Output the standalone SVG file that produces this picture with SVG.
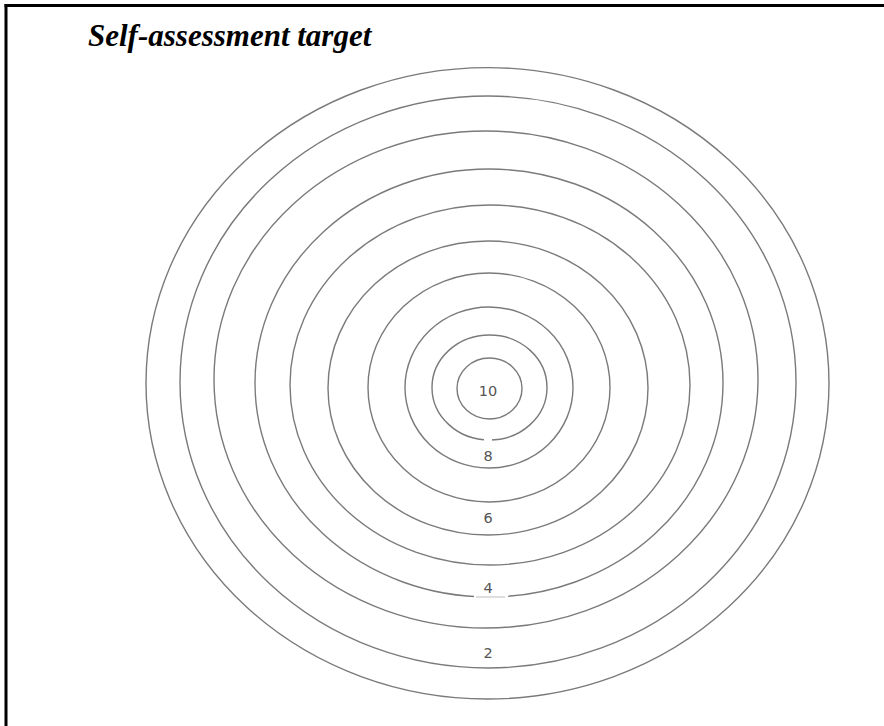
<svg xmlns="http://www.w3.org/2000/svg" width="884" height="726" viewBox="0 0 884 726">
<style>
.ring{fill:none;stroke:#7a7a7a;stroke-width:1.4}
.lbl{font-family:"DejaVu Sans","Liberation Sans",sans-serif;font-size:14.5px;fill:#555;text-anchor:middle}
.title{font-family:"Liberation Serif","Times New Roman",serif;font-weight:bold;font-style:italic;font-size:31px;fill:#000}
</style>
<rect width="884" height="726" fill="#fff"/>
<g id="frame">
<line x1="4.5" y1="5.5" x2="884" y2="5.5" stroke="#000" stroke-width="3"/>
<line x1="6" y1="4" x2="6" y2="726" stroke="#000" stroke-width="3"/>
</g>
<text id="title" class="title" x="88" y="46">Self-assessment target</text>
<g id="rings">
<ellipse id="ring1" class="ring" cx="487.5" cy="383.3" rx="341.5" ry="315.7"/>
<ellipse id="ring2" class="ring" cx="488" cy="382" rx="308" ry="286"/>
<ellipse id="ring3" class="ring" cx="486" cy="379.5" rx="272" ry="248.5"/>
<ellipse id="ring4" class="ring" cx="489" cy="383" rx="234" ry="214"/>
<ellipse id="ring5" class="ring" cx="490" cy="385" rx="200" ry="180"/>
<ellipse id="ring6" class="ring" cx="488" cy="388" rx="160" ry="147"/>
<ellipse id="ring7" class="ring" cx="489" cy="387.5" rx="121" ry="114.5"/>
<ellipse id="ring8" class="ring" cx="489" cy="387.5" rx="84" ry="80.5"/>
<ellipse id="ring9" class="ring" cx="489.5" cy="387.5" rx="57.5" ry="52.5"/>
<ellipse id="ring10" class="ring" cx="489.5" cy="388.5" rx="32.5" ry="30.5"/>
</g>
<g id="gaps">
<rect x="484" y="437" width="8" height="5" fill="#fff"/>
<rect x="474" y="593" width="34" height="7" fill="#fff"/>
<line x1="476" y1="597" x2="505" y2="597" stroke="#c8c8c8" stroke-width="1.2"/>
</g>
<g id="labels">
<text class="lbl" x="488" y="396">10</text>
<text class="lbl" x="488" y="461">8</text>
<text class="lbl" x="488" y="523">6</text>
<text class="lbl" x="488" y="593">4</text>
<text class="lbl" x="488" y="658">2</text>
</g>
</svg>
